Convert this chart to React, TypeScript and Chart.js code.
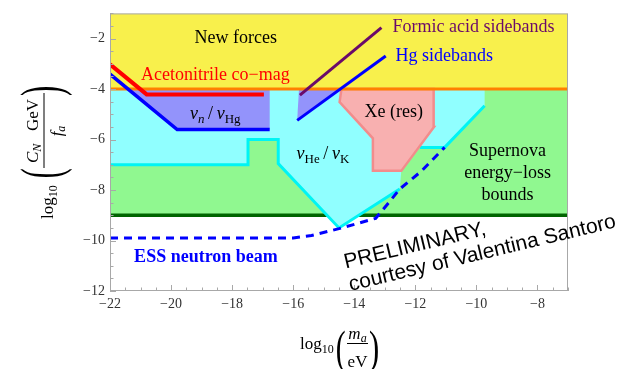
import React, { useEffect, useRef } from 'react';
import { Chart, registerables } from 'chart.js';

Chart.register(...registerables);

// ---------- data ----------
const X_MIN = -22;
const X_MAX = -7;
const Y_MIN = -12;
const Y_MAX = -1;
const xTicks = [-22, -20, -18, -16, -14, -12, -10, -8];
const yTicks = [-12, -10, -8, -6, -4, -2];
const minorStep = 0.5;

const newForcesRegion = [[-22, -4], [-7, -4], [-7, -1], [-22, -1]];
const supernovaRegion = [[-22, -9], [-7, -9], [-7, -4], [-22, -4]];
const heKRegion = [
  [-22, -4], [-22, -7], [-17.48, -7], [-17.48, -6], [-16.49, -6], [-16.49, -6.95],
  [-14.5, -9.5], [-12.51, -7.96], [-12.46, -7.24], [-11.85, -6.31], [-11.04, -6.31],
  [-9.73, -4.66], [-9.73, -4],
];
const heKEdgeLeft = [
  [-22, -7], [-17.48, -7], [-17.48, -6], [-16.49, -6], [-16.49, -6.95], [-14.5, -9.5], [-12.51, -7.96],
];
const heKEdgeRight = [[-11.85, -6.31], [-11.04, -6.31], [-9.73, -4.66]];
const nHgRegionLeft = [[-21.41, -4], [-19.8, -5.6], [-16.77, -5.6], [-16.77, -4]];
const nHgRegionRight = [[-15.81, -4], [-15.87, -5.24], [-14.46, -4]];
const xeRegion = [
  [-14.42, -4], [-14.48, -4.51], [-13.39, -5.95], [-13.39, -7.24], [-12.46, -7.24],
  [-11.39, -5.5], [-11.4, -4],
];
const newForcesLine = [[-22, -4], [-7, -4]];
const supernovaLine = [[-22, -9], [-7, -9]];
const acetonitrileLine = [[-22, -3.02], [-20.8, -4.21], [-16.96, -4.21]];
const nHgLine = [[-22, -3.41], [-19.8, -5.6], [-16.77, -5.6]];
const formicLine = [[-15.78, -4.24], [-13.11, -1.56]];
const hgSidebandLine = [[-15.87, -5.24], [-12.97, -2.69]];
const essLine = [
  [-22, -9.9], [-16, -9.9], [-15.4, -9.8], [-14.5, -9.53], [-13.3, -9.12],
  [-12.9, -8.54], [-12.51, -7.96], [-11.8, -7.25], [-11.04, -6.31],
];

// ---------- styles ----------
const SERIF = "'Liberation Serif', 'Times New Roman', serif";
const SANS = "'Liberation Sans', Arial, sans-serif";
const YELLOW = '#f8f04c';
const LIGHTGREEN = '#90f890';
const LIGHTCYAN = '#90ffff';
const CYAN = '#00f4f4';
const LAVENDER = '#9393fb';
const PINK = '#f8b0b0';
const SALMON = '#f28c8c';
const ORANGE = '#ff8000';
const DARKGREEN = '#006400';
const RED = '#ff0000';
const BLUE = '#0000ff';
const PURPLE = '#6a0a6a';
const FRAME = '#a8a8a8';
const TICKTXT = '#333333';

const pts = (a: number[][]) => a.map(([x, y]) => ({ x, y }));
const closed = (a: number[][]) => pts([...a, a[0]]);

const area = (data: number[][], color: string, order: number, border?: string, bw?: number) => ({
  data: closed(data),
  backgroundColor: color,
  borderColor: border || 'rgba(0,0,0,0)',
  borderWidth: bw || 1,
  fill: 'shape',
  order,
  pointRadius: 0,
  tension: 0,
});
const line = (data: number[][], color: string, width: number, order: number, dash?: number[]) => ({
  data: pts(data),
  borderColor: color,
  backgroundColor: color,
  borderWidth: width,
  borderDash: dash || [],
  fill: false,
  order,
  pointRadius: 0,
  tension: 0,
});

type Seg = { t: string; f: string; dy?: number };
function drawRich(ctx: CanvasRenderingContext2D, segs: Seg[], x: number, y: number, align: 'left' | 'center') {
  let w = 0;
  for (const s of segs) {
    ctx.font = s.f;
    w += ctx.measureText(s.t).width;
  }
  let cx = align === 'center' ? x - w / 2 : x;
  ctx.textAlign = 'left';
  ctx.textBaseline = 'alphabetic';
  for (const s of segs) {
    ctx.font = s.f;
    ctx.fillText(s.t, cx, y + (s.dy || 0));
    cx += ctx.measureText(s.t).width;
  }
}

function drawBig(ctx: CanvasRenderingContext2D, ch: string, x: number, cy: number, h: number, w: number) {
  ctx.save();
  ctx.font = `100px ${SERIF}`;
  const m = ctx.measureText(ch);
  const gh = m.actualBoundingBoxAscent + m.actualBoundingBoxDescent;
  const gw = m.actualBoundingBoxRight + m.actualBoundingBoxLeft;
  ctx.translate(x, cy);
  ctx.scale(w / gw, h / gh);
  ctx.textAlign = 'left';
  ctx.textBaseline = 'alphabetic';
  ctx.fillText(ch, m.actualBoundingBoxLeft, -gh / 2 + m.actualBoundingBoxAscent);
  ctx.restore();
}

const f = (size: number, style = '', weight = '') => `${style} ${weight} ${size}px ${SERIF}`.trim();

const decor = {
  id: 'decor',
  afterDatasetsDraw(chart: any) {
    const { ctx, chartArea: a, scales } = chart;
    const xs = scales.x;
    const ys = scales.y;
    const X = (v: number) => xs.getPixelForValue(v);
    const Y = (v: number) => ys.getPixelForValue(v);
    ctx.save();
    // frame
    ctx.strokeStyle = FRAME;
    ctx.lineWidth = 1;
    ctx.strokeRect(a.left + 0.5, a.top + 0.5, a.right - a.left - 1, a.bottom - a.top - 1);
    // ticks
    ctx.beginPath();
    const nx = Math.round((X_MAX - X_MIN) / minorStep);
    for (let i = 0; i <= nx; i++) {
      const v = X_MIN + i * minorStep;
      const len = xTicks.includes(v) ? 6 : 3.5;
      const p = Math.round(X(v)) + 0.5;
      ctx.moveTo(p, a.bottom);
      ctx.lineTo(p, a.bottom - len);
    }
    const ny = Math.round((Y_MAX - Y_MIN) / minorStep);
    for (let i = 0; i <= ny; i++) {
      const v = Y_MIN + i * minorStep;
      const len = yTicks.includes(v) ? 6 : 3.5;
      const p = Math.round(Y(v)) + 0.5;
      ctx.moveTo(a.left, p);
      ctx.lineTo(a.left + len, p);
    }
    ctx.stroke();

    // labels
    ctx.fillStyle = '#000';
    drawRich(ctx, [{ t: 'New forces', f: f(18) }], X(-17.88), Y(-2.16), 'center');
    ctx.fillStyle = RED;
    drawRich(ctx, [{ t: 'Acetonitrile co\u2212mag', f: f(18) }], X(-18.55), Y(-3.63), 'center');
    ctx.fillStyle = PURPLE;
    drawRich(ctx, [{ t: 'Formic acid sidebands', f: f(18) }], X(-12.75), Y(-1.73), 'left');
    ctx.fillStyle = BLUE;
    drawRich(ctx, [{ t: 'Hg sidebands', f: f(18) }], X(-12.65), Y(-2.89), 'left');
    ctx.fillStyle = '#000';
    drawRich(ctx, [{ t: 'Xe (res)', f: f(18) }], X(-12.71), Y(-5.1), 'center');
    drawRich(ctx, [
      { t: '\u03bd', f: f(18, 'italic') },
      { t: 'n', f: f(13, 'italic'), dy: 4 },
      { t: '\u2009/\u2009', f: f(18) },
      { t: '\u03bd', f: f(18, 'italic') },
      { t: 'Hg', f: f(13), dy: 4 },
    ], X(-19.38), Y(-5.18), 'left');
    drawRich(ctx, [
      { t: '\u03bd', f: f(18, 'italic') },
      { t: 'He', f: f(13), dy: 4 },
      { t: '\u2009/\u2009', f: f(18) },
      { t: '\u03bd', f: f(18, 'italic') },
      { t: 'K', f: f(13), dy: 4 },
    ], X(-15.89), Y(-6.77), 'left');
    drawRich(ctx, [{ t: 'Supernova', f: f(18) }], X(-8.98), Y(-6.65), 'center');
    drawRich(ctx, [{ t: 'energy\u2212loss', f: f(18) }], X(-8.98), Y(-7.54), 'center');
    drawRich(ctx, [{ t: 'bounds', f: f(18) }], X(-8.98), Y(-8.4), 'center');
    ctx.fillStyle = BLUE;
    drawRich(ctx, [{ t: 'ESS neutron beam', f: f(18, '', 'bold') }], X(-21.21), Y(-10.84), 'left');

    // preliminary stamp
    ctx.fillStyle = '#000';
    const ang = (-13.5 * Math.PI) / 180;
    ctx.font = `21px ${SANS}`;
    ctx.save();
    ctx.translate(X(-14.28), Y(-11.11));
    ctx.rotate(ang);
    ctx.fillText('PRELIMINARY,', 0, 0);
    ctx.restore();
    ctx.save();
    ctx.translate(X(-14.12), Y(-12.0));
    ctx.rotate(ang);
    ctx.fillText('courtesy of Valentina Santoro', 0, 0);
    ctx.restore();
    ctx.restore();
  },
  afterDraw(chart: any) {
    const { ctx } = chart;
    ctx.save();
    ctx.fillStyle = '#000';
    ctx.strokeStyle = '#000';
    // x title
    drawRich(ctx, [{ t: 'log', f: f(17) }, { t: '10', f: f(12), dy: 4 }], 300, 349, 'left');
    drawBig(ctx, '(', 337, 351.5, 43, 8);
    drawRich(ctx, [{ t: 'm', f: f(17, 'italic') }, { t: 'a', f: f(12, 'italic'), dy: 3 }], 357.5, 339, 'center');
    ctx.fillRect(347, 343, 21, 1);
    drawRich(ctx, [{ t: 'eV', f: f(17) }], 357.5, 367, 'center');
    drawBig(ctx, ')', 370, 351.5, 43, 8);

    // y title (rotated)
    ctx.save();
    ctx.rotate(-Math.PI / 2);
    drawRich(ctx, [{ t: 'log', f: f(17) }, { t: '10', f: f(12), dy: 4 }], -219, 53, 'left');
    drawBig(ctx, '(', -177, 46, 52, 8);
    drawRich(ctx, [
      { t: 'C', f: f(17, 'italic') },
      { t: 'N', f: f(12, 'italic'), dy: 3 },
      { t: '   GeV', f: f(17) },
    ], -131, 38, 'center');
    ctx.fillRect(-168, 43.5, 75, 1);
    drawRich(ctx, [{ t: 'f', f: f(17, 'italic') }, { t: 'a', f: f(12, 'italic'), dy: 3 }], -131, 62, 'center');
    drawBig(ctx, ')', -95, 46, 52, 8);
    ctx.restore();
    ctx.restore();
  },
};

export default function App() {
  const ref = useRef<HTMLCanvasElement | null>(null);
  useEffect(() => {
    if (!ref.current) return;
    const chart = new Chart(ref.current, {
      type: 'line',
      data: {
        datasets: [
          area(newForcesRegion, YELLOW, 100),
          area(supernovaRegion, LIGHTGREEN, 99),
          line(supernovaLine, DARKGREEN, 3.5, 98),
          area(heKRegion, LIGHTCYAN, 97),
          line(heKEdgeLeft, CYAN, 3, 96),
          line(heKEdgeRight, CYAN, 3, 96),
          area(nHgRegionLeft, LAVENDER, 95),
          area(nHgRegionRight, LAVENDER, 95),
          area(xeRegion, PINK, 94, SALMON, 2.5),
          line(newForcesLine, ORANGE, 3, 90),
          line(acetonitrileLine, RED, 4, 88),
          line(nHgLine, BLUE, 3.5, 87),
          line(formicLine, PURPLE, 3, 86),
          line(hgSidebandLine, BLUE, 3, 85),
          line(essLine, BLUE, 3, 84, [8, 6]),
        ] as any,
      },
      options: {
        animation: false,
        responsive: true,
        maintainAspectRatio: false,
        layout: { padding: { top: 7, right: 58, left: 0, bottom: 0 } },
        plugins: { legend: { display: false }, tooltip: { enabled: false } },
        elements: { line: { borderJoinStyle: 'miter' } },
        scales: {
          x: {
            type: 'linear',
            min: X_MIN,
            max: X_MAX,
            grid: { display: false, drawTicks: false },
            border: { display: false },
            afterBuildTicks: (s: any) => { s.ticks = xTicks.map((v) => ({ value: v })); },
            afterFit: (s: any) => { s.height = 78; },
            ticks: {
              padding: 5,
              maxRotation: 0,
              autoSkip: false,
              color: TICKTXT,
              font: { family: SERIF, size: 14 },
              callback: (v: any) => (v < 0 ? '\u2212' + Math.abs(v) : String(v)),
            },
          },
          y: {
            type: 'linear',
            min: Y_MIN,
            max: Y_MAX,
            grid: { display: false, drawTicks: false },
            border: { display: false },
            afterBuildTicks: (s: any) => { s.ticks = yTicks.map((v) => ({ value: v })); },
            afterFit: (s: any) => { s.width = 110; },
            ticks: {
              padding: 5,
              autoSkip: false,
              color: TICKTXT,
              font: { family: SERIF, size: 14 },
              callback: (v: any) => (v < 0 ? '\u2212' + Math.abs(v) : String(v)),
            },
          },
        },
      } as any,
      plugins: [decor],
    });
    return () => chart.destroy();
  }, []);
  return (
    <div style={{ position: 'fixed', left: 0, top: 0, width: 626, height: 369, background: '#fff' }}>
      <canvas ref={ref} />
    </div>
  );
}
